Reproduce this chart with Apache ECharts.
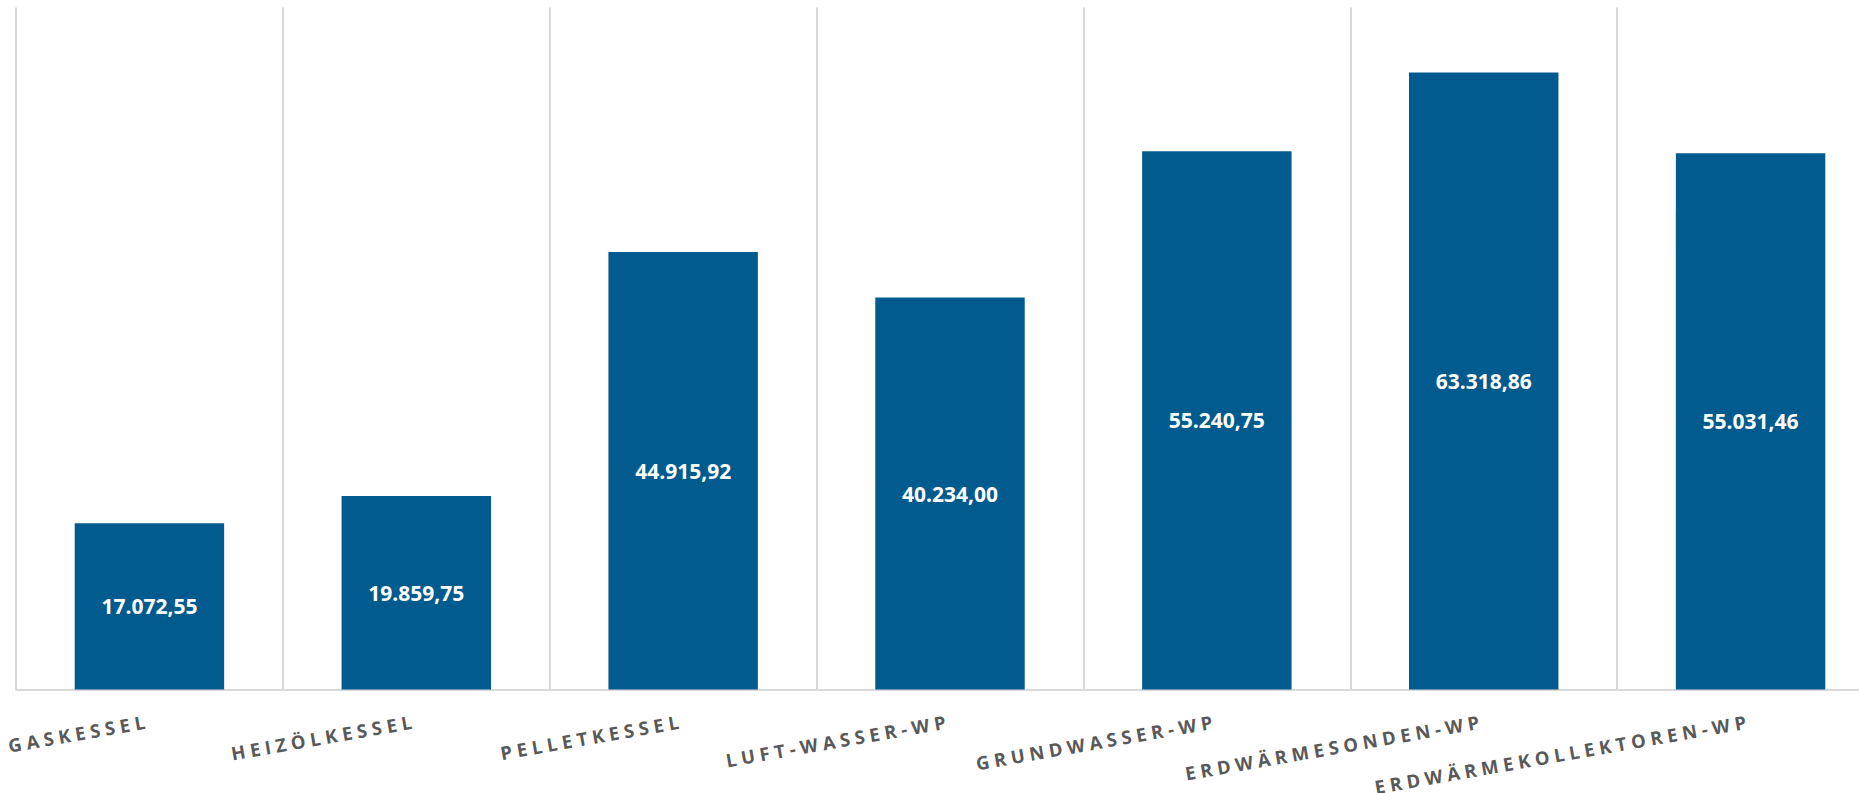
<!DOCTYPE html>
<html>
<head>
<meta charset="utf-8">
<script src="https://cdn.jsdelivr.net/npm/echarts@6/dist/echarts.min.js"></script>
<style>
html,body{margin:0;padding:0;background:#fff;}
#chart{width:1859px;height:793px;}
#chart text[fill="#595959"], #chart text[style*="18.5px"]{letter-spacing:4.8px;}
</style>
</head>
<body>
<div id="chart"></div>
<script>
const categories = ["GASKESSEL","HEIZÖLKESSEL","PELLETKESSEL","LUFT-WASSER-WP","GRUNDWASSER-WP","ERDWÄRMESONDEN-WP","ERDWÄRMEKOLLEKTOREN-WP"];
const values = [17072.55, 19859.75, 44915.92, 40234.00, 55240.75, 63318.86, 55031.46];

function fmtDE(v){
  const parts = v.toFixed(2).split('.');
  const intPart = parts[0].replace(/\B(?=(\d{3})+(?!\d))/g, '.');
  return intPart + ',' + parts[1];
}

const chart = echarts.init(document.getElementById('chart'), null, {renderer:'svg'});
chart.setOption({
  animation:false,
  backgroundColor:'#ffffff',
  grid:{left:16, top:7.5, width:1868, height:682, outerBoundsMode:'none', containLabel:false},
  xAxis:{
    type:'category',
    data:categories,
    boundaryGap:true,
    axisLine:{show:true, lineStyle:{color:'#d9d9d9', width:2}},
    axisTick:{show:false},
    splitLine:{show:true, interval:0, lineStyle:{color:'#d9d9d9', width:2}},
    axisLabel:{
      interval:0, rotate:10, margin:31,
      color:'#595959', fontFamily:'Open Sans', fontWeight:'bold', fontSize:18.5
    }
  },
  yAxis:{
    type:'value', min:0, max:70000, show:false,
    splitLine:{show:false}
  },
  series:[{
    type:'bar',
    data:values,
    barWidth:'56%',
    itemStyle:{color:'#025B8E'},
    label:{
      show:true, position:'inside',
      color:'#ffffff', fontFamily:'Open Sans', fontWeight:'bold', fontSize:21,
      formatter:p=>fmtDE(p.value)
    }
  }]
});
</script>
</body>
</html>
